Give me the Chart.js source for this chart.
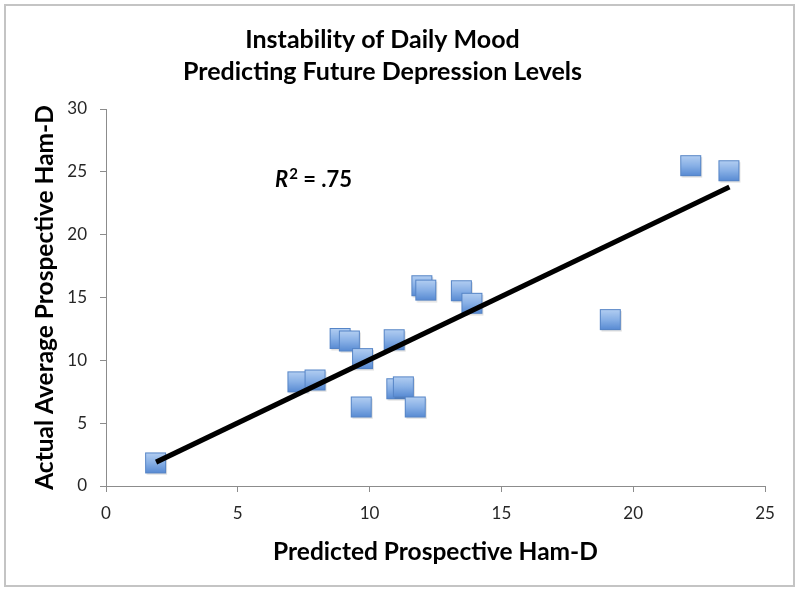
<!DOCTYPE html>
<html>
<head>
<meta charset="utf-8">
<script src="https://cdn.jsdelivr.net/npm/chart.js@4.4.1/dist/chart.umd.min.js"></script>
<style>
  html, body { margin: 0; padding: 0; background: #ffffff; }
  #wrap { width: 800px; height: 592px; position: relative; }
</style>
</head>
<body>
<div id="wrap"><canvas id="c" width="800" height="592"></canvas></div>
<script>
// ---- data ----
const predictedHamD = [1.9, 7.3, 7.95, 8.9, 9.25, 9.75, 9.7, 10.95, 11.05, 11.3, 11.75, 12.0, 12.15, 13.5, 13.9, 19.15, 22.2, 23.65];
const actualHamD    = [1.8, 8.25, 8.4, 11.7, 11.5, 10.1, 6.25, 11.6, 7.7, 7.85, 6.25, 15.9, 15.55, 15.5, 14.5, 13.2, 25.45, 25.05];
const trendX = [1.9, 23.65];
const trendY = [1.9, 23.8];
const xTicks = [0, 5, 10, 15, 20, 25];
const yTicks = [0, 5, 10, 15, 20, 25, 30];
const rSquaredLabel = { x: 6.41, y: 23.8, value: '.75' };

const titleLines = ['Instability of Daily Mood', 'Predicting Future Depression Levels'];
const xTitle = 'Predicted Prospective Ham-D';
const yTitle = 'Actual Average Prospective Ham-D';

const FONT = 'Lato, "Open Sans", sans-serif';

// gradient square marker
function makeMarker() {
  const s = 24;
  const cv = document.createElement('canvas');
  cv.width = s; cv.height = s;
  const g = cv.getContext('2d');
  g.fillStyle = 'rgba(0,0,0,0.12)';
  g.fillRect(2.5, 3, 20.5, 20.5);
  const grad = g.createLinearGradient(0, 1, 0, 22);
  grad.addColorStop(0, '#b4cff2');
  grad.addColorStop(0.5, '#88b0e6');
  grad.addColorStop(1, '#5689d2');
  g.fillStyle = grad;
  g.fillRect(1.5, 1.5, 20, 20);
  g.strokeStyle = '#5584c6';
  g.lineWidth = 1;
  g.strokeRect(1.5, 1.5, 20, 20);
  return cv;
}

const frame = {
  id: 'frame',
  beforeDraw(chart) {
    const ctx = chart.ctx;
    ctx.save();
    ctx.fillStyle = '#ffffff';
    ctx.fillRect(0, 0, chart.width, chart.height);
    ctx.strokeStyle = '#c4c4c4';
    ctx.lineWidth = 2;
    ctx.strokeRect(5, 5, 789, 581);
    ctx.restore();
  }
};

const rLabel = {
  id: 'rLabel',
  afterDatasetsDraw(chart) {
    const ctx = chart.ctx;
    const px = chart.scales.x.getPixelForValue(rSquaredLabel.x);
    const py = chart.scales.y.getPixelForValue(rSquaredLabel.y);
    ctx.save();
    ctx.fillStyle = '#000000';
    ctx.textBaseline = 'alphabetic';
    ctx.textAlign = 'left';
    ctx.font = 'italic bold 22px ' + FONT;
    ctx.fillText('R', px, py);
    let w = ctx.measureText('R').width;
    ctx.font = 'bold 15px ' + FONT;
    ctx.fillText('2', px + w + 1, py - 8);
    w += ctx.measureText('2').width + 1;
    ctx.font = 'bold 22px ' + FONT;
    ctx.fillText(' = ' + rSquaredLabel.value, px + w, py);
    ctx.restore();
  }
};

new Chart(document.getElementById('c'), {
  type: 'scatter',
  data: {
    datasets: [
      {
        type: 'line',
        label: 'Trend',
        data: trendX.map((x, i) => ({ x, y: trendY[i] })),
        borderColor: '#000000',
        borderWidth: 5,
        pointRadius: 0,
        fill: false,
        order: 0
      },
      {
        label: 'Participants',
        data: predictedHamD.map((x, i) => ({ x, y: actualHamD[i] })),
        pointStyle: makeMarker(),
        pointRadius: 12,
        order: 1
      }
    ]
  },
  options: {
    responsive: false,
    animation: false,
    devicePixelRatio: 1,
    layout: { padding: { left: 0, right: 35, top: 0, bottom: 0 } },
    plugins: {
      legend: { display: false },
      tooltip: { enabled: false },
      title: {
        display: true,
        text: titleLines,
        color: '#000000',
        font: { family: FONT, size: 25, weight: 'bold', lineHeight: 1.28 },
        padding: { top: 24, bottom: 21 }
      }
    },
    scales: {
      x: {
        type: 'linear',
        min: 0, max: 25,
        afterBuildTicks(scale) { scale.ticks = xTicks.map(v => ({ value: v })); },
        afterFit(scale) { scale.height = 106; },
        grid: { display: true, drawOnChartArea: false, drawTicks: true, tickLength: 6, color: '#8c8c8c' },
        border: { color: '#8c8c8c', width: 1 },
        ticks: { color: '#262626', font: { family: FONT, size: 17 }, padding: 11, maxRotation: 0 },
        title: {
          display: true, text: xTitle, color: '#000000',
          font: { family: FONT, size: 24.5, weight: 'bold', lineHeight: 1.2 },
          padding: { top: 0, bottom: 25 }
        }
      },
      y: {
        type: 'linear',
        min: 0, max: 30,
        afterBuildTicks(scale) { scale.ticks = yTicks.map(v => ({ value: v })); },
        afterFit(scale) { scale.width = 106; },
        grid: { display: true, drawOnChartArea: false, drawTicks: true, tickLength: 6, color: '#8c8c8c' },
        border: { color: '#8c8c8c', width: 1 },
        ticks: { color: '#262626', font: { family: FONT, size: 17 }, padding: 13 },
        title: {
          display: true, text: yTitle, color: '#000000',
          font: { family: FONT, size: 24.5, weight: 'bold', lineHeight: 1.2 },
          padding: { top: 30, bottom: 0 }
        }
      }
    }
  },
  plugins: [frame, rLabel]
});
</script>
</body>
</html>
